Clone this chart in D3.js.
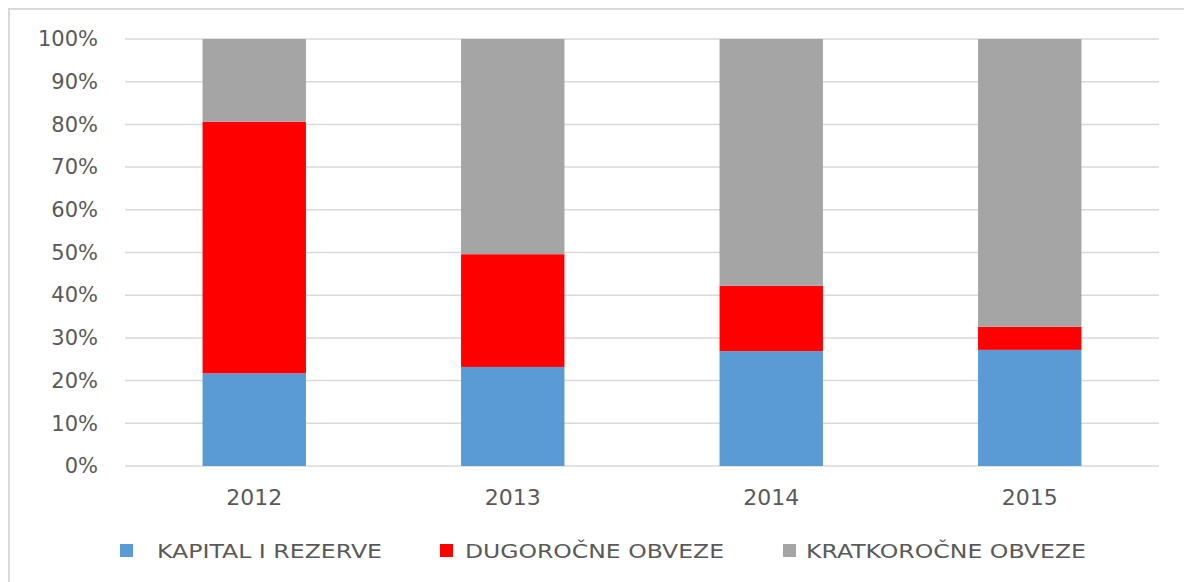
<!DOCTYPE html>
<html>

<head>
    <meta charset="utf-8">
    <title>Struktura izvora financiranja</title>
    <script src="https://d3js.org/d3.v7.min.js"></script>
    <style>
        body { margin: 0; background: #fff; }
        text { font-family: "DejaVu Sans", sans-serif; fill: #595959; }
        .grid line { stroke: #d9d9d9; stroke-width: 1.5px; }
    </style>
</head>

<body>
    <div id="chart"></div>
    <script>
        // values (share of total, in %)
        const years = ["2012", "2013", "2014", "2015"];
        const seriesNames = ["KAPITAL I REZERVE", "DUGOROČNE OBVEZE", "KRATKOROČNE OBVEZE"];
        const kapital = [21.7, 23.2, 26.9, 27.2];
        const dugorocne = [58.9, 26.4, 15.3, 5.4];
        const kratkorocne = [19.4, 50.4, 57.8, 67.4];
        const colors = ["#5b9bd5", "#ff0000", "#a5a5a5"];
        const yTicks = [0, 10, 20, 30, 40, 50, 60, 70, 80, 90, 100];

        const width = 1184, height = 582;
        const margin = { top: 39, right: 24, bottom: 116, left: 125 };

        const svg = d3.select("#chart")
            .append("svg")
            .attr("width", width)
            .attr("height", height);

        // chart area border
        svg.append("rect")
            .attr("x", 9).attr("y", 9)
            .attr("width", width).attr("height", height)
            .attr("fill", "none")
            .attr("stroke", "#d9d9d9")
            .attr("stroke-width", 2);

        const x = d3.scaleBand()
            .domain(years)
            .range([margin.left, width - margin.right - 1])
            .paddingInner(0.6)
            .paddingOuter(0.3);

        const y = d3.scaleLinear()
            .domain([0, 100])
            .range([height - margin.bottom, margin.top]);

        // gridlines
        svg.append("g")
            .attr("class", "grid")
            .selectAll("line")
            .data(yTicks)
            .join("line")
            .attr("x1", margin.left)
            .attr("x2", width - margin.right - 1)
            .attr("y1", d => y(d))
            .attr("y2", d => y(d));

        // y labels
        const yAxis = svg.append("g")
            .attr("transform", `translate(${margin.left - 27},0)`)
            .call(d3.axisLeft(y).tickValues(yTicks).tickSize(0).tickFormat(d => d + "%"));
        yAxis.select(".domain").remove();
        yAxis.selectAll("text")
            .attr("x", 0)
            .style("font-size", "21px")
            .style("fill", "#595959")
            .style("font-family", "DejaVu Sans, sans-serif");

        // stacked data
        const table = years.map((yr, i) => ({
            year: yr,
            [seriesNames[0]]: kapital[i],
            [seriesNames[1]]: dugorocne[i],
            [seriesNames[2]]: kratkorocne[i]
        }));
        const stacked = d3.stack().keys(seriesNames)(table);

        svg.append("g")
            .selectAll("g")
            .data(stacked)
            .join("g")
            .attr("fill", (d, i) => colors[i])
            .selectAll("rect")
            .data(d => d)
            .join("rect")
            .attr("x", d => x(d.data.year))
            .attr("width", x.bandwidth())
            .attr("y", d => y(d[1]))
            .attr("height", d => y(d[0]) - y(d[1]));

        // x labels
        const xAxis = svg.append("g")
            .attr("transform", `translate(0,${height - margin.bottom})`)
            .call(d3.axisBottom(x).tickSize(0).tickPadding(0));
        xAxis.select(".domain").remove();
        xAxis.selectAll("text")
            .attr("dy", null)
            .attr("y", 39)
            .style("font-size", "22px")
            .style("fill", "#595959")
            .style("font-family", "DejaVu Sans, sans-serif");

        // legend
        const legendX = [120, 440, 783];
        const legendTextX = [157, 465, 806];
        const legendW = [225, 259, 280];
        const legend = svg.append("g")
            .selectAll("g")
            .data(seriesNames)
            .join("g");
        legend.append("rect")
            .attr("x", (d, i) => legendX[i])
            .attr("y", 544)
            .attr("width", 13)
            .attr("height", 13)
            .attr("fill", (d, i) => colors[i]);
        legend.append("text")
            .attr("x", (d, i) => legendTextX[i])
            .attr("y", 558)
            .attr("textLength", (d, i) => legendW[i])
            .attr("lengthAdjust", "spacingAndGlyphs")
            .style("font-size", "20px")
            .text(d => d);
    </script>

</body>

</html>
